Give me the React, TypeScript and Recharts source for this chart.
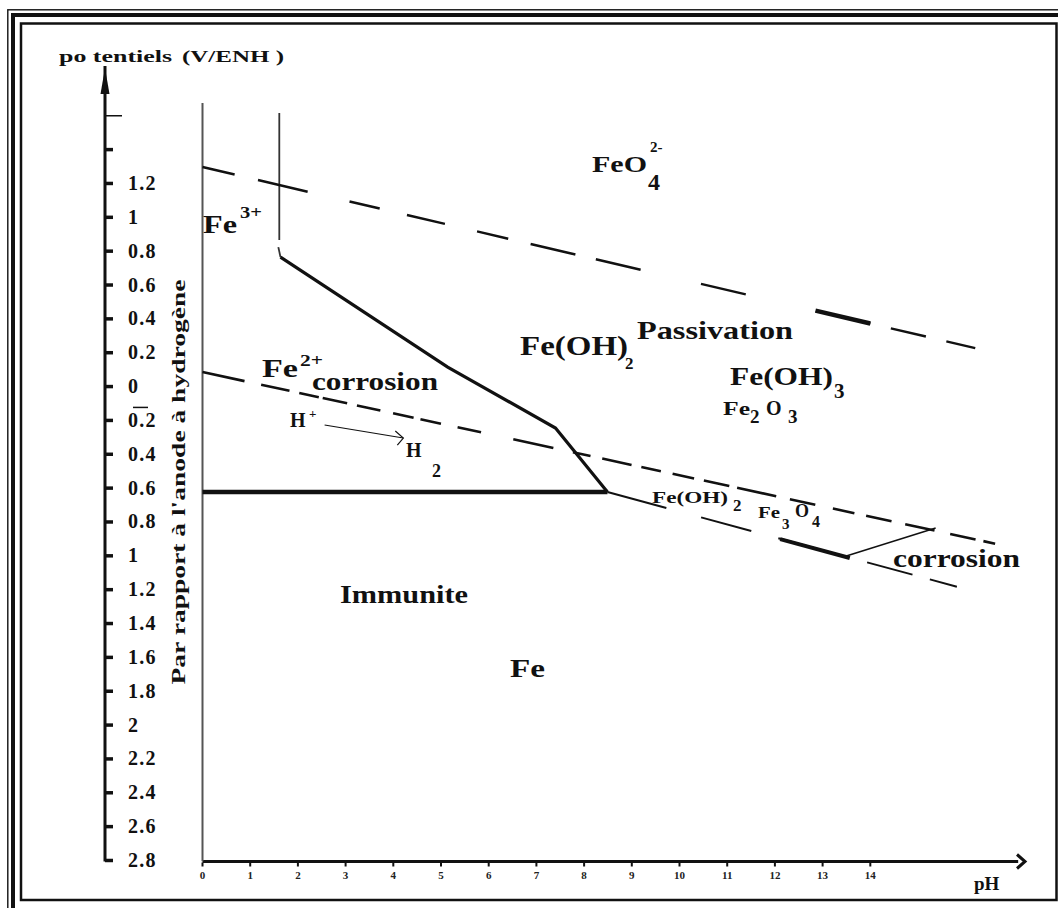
import React from 'react';
import { ComposedChart, Line, XAxis, YAxis, ReferenceLine, ReferenceDot } from 'recharts';

// ---- axes ----
const xTicks = [0, 1, 2, 3, 4, 5, 6, 7, 8, 9, 10, 11, 12, 13, 14];
const xTickLabels = ['0', '1', '2', '3', '4', '5', '6', '7', '8', '9', '10', '11', '12', '13', '14'];
const yTicks = [1.6, 1.4, 1.2, 1, 0.8, 0.6, 0.4, 0.2, 0, -0.2, -0.4, -0.6, -0.8, -1, -1.2, -1.4, -1.6, -1.8, -2, -2.2, -2.4, -2.6, -2.8];
const yTickLabels = ['', '', '1.2', '1', '0.8', '0.6', '0.4', '0.2', '0', '0.2', '0.4', '0.6', '0.8', '1', '1.2', '1.4', '1.6', '1.8', '2', '2.2', '2.4', '2.6', '2.8'];

// ---- boundaries (pH, V) ----
const phZeroLine = [{ ph: 0, v: 1.675 }, { ph: 0, v: -2.806 }];
const fe3Vertical = [{ ph: 1.61, v: 1.616 }, { ph: 1.61, v: 0.866 }];
const fe3Hook = [{ ph: 1.59, v: 0.824 }, { ph: 1.635, v: 0.765 }];
const passivationBoundary = [{ ph: 1.635, v: 0.765 }, { ph: 5.14, v: 0.115 }, { ph: 7.4, v: -0.245 }, { ph: 8.49, v: -0.623 }];
const immunityBoundary = [{ ph: 0, v: -0.623 }, { ph: 8.49, v: -0.623 }];
const oxygenLine = [{ ph: 0, v: 1.297 }, { ph: 16.2, v: 0.227 }];
const oxygenThick = [{ ph: 12.85, v: 0.449 }, { ph: 14.0, v: 0.373 }];
const hydrogenLine = [{ ph: 0, v: 0.086 }, { ph: 17.04, v: -0.954 }];
const magnetiteBoundary = [{ ph: 8.49, v: -0.623 }, { ph: 15.85, v: -1.185 }];
const magnetiteThick = [{ ph: 12.11, v: -0.901 }, { ph: 13.57, v: -1.013 }];
const ferriteBoundary = [{ ph: 13.48, v: -1.002 }, { ph: 15.37, v: -0.836 }];
const hArrow = [{ ph: 2.56, v: -0.227 }, { ph: 4.21, v: -0.304 }];

const X_DOMAIN: [number, number] = [-2.044, 17.243];
const Y_DOMAIN: [number, number] = [-2.806, 1.894];

const SERIF = '"Liberation Serif", "Times New Roman", serif';
const INK = '#111';

const YTick = (props: any) => {
  const { x, y, payload } = props;
  const i = yTicks.indexOf(payload.value);
  const label = yTickLabels[i] ?? '';
  const long = payload.value === 1.6;
  return (
    <g>
      <line x1={x} y1={y} x2={x + (long ? 17 : 8)} y2={y} stroke={INK} strokeWidth={long ? 1.5 : 3.5} />
      {payload.value === -0.2 && <line x1={x + 28} y1={y - 13} x2={x + 43} y2={y - 13} stroke={INK} strokeWidth={1.5} />}
      {label && (
        <text x={x + 23} y={y + 6.5} fontFamily={SERIF} fontWeight="bold" fontSize={20} letterSpacing={1.2} fill={INK}>
          {label}
        </text>
      )}
    </g>
  );
};

const XTick = (props: any) => {
  const { x, y, payload } = props;
  const i = xTicks.indexOf(payload.value);
  return (
    <g>
      <line x1={x} y1={y + 1} x2={x} y2={y + 5} stroke={INK} strokeWidth={2} />
      <text x={x} y={y + 17} textAnchor="middle" fontFamily={SERIF} fontWeight="bold" fontSize={11} fill="#222">
        {xTickLabels[i]}
      </text>
    </g>
  );
};

const upArrow = (p: any) => (
  <path d={`M${p.cx},${p.cy} L${p.cx - 4.5},${p.cy + 26} L${p.cx + 4.5},${p.cy + 26} Z`} fill={INK} />
);
const rightArrow = (p: any) => (
  <path d={`M${p.cx - 8},${p.cy - 7} L${p.cx},${p.cy} L${p.cx - 8},${p.cy + 7}`} fill="none" stroke={INK} strokeWidth={3} />
);
const smallArrow = (p: any) => (
  <path d={`M${p.cx - 8},${p.cy - 7} L${p.cx},${p.cy} L${p.cx - 6},${p.cy + 7}`} fill="none" stroke={INK} strokeWidth={1.2} />
);

type T = { t: string; x: number; y: number; s: number; len?: number; w?: string };
const texts: T[] = [
  { t: 'po tentiels', x: 59, y: 62, s: 16, len: 113 },
  { t: '(V/ENH )', x: 182, y: 62, s: 17, len: 102 },
  { t: 'pH', x: 974, y: 890, s: 19 },
  { t: 'Fe', x: 203, y: 233, s: 25, len: 34 },
  { t: '3+', x: 240, y: 218, s: 16, len: 22 },
  { t: 'FeO', x: 592, y: 172, s: 24, len: 55 },
  { t: '4', x: 648, y: 190, s: 24 },
  { t: '2-', x: 650, y: 152, s: 15 },
  { t: 'Fe(OH)', x: 520, y: 355, s: 27, len: 108 },
  { t: '2', x: 625, y: 369, s: 17 },
  { t: 'Passivation', x: 637, y: 339, s: 26, len: 156 },
  { t: 'Fe(OH)', x: 730, y: 385, s: 25, len: 103 },
  { t: '3', x: 834, y: 398, s: 21 },
  { t: 'Fe', x: 723, y: 415, s: 19, len: 27 },
  { t: '2', x: 750, y: 423, s: 19 },
  { t: 'O', x: 766, y: 415, s: 20 },
  { t: '3', x: 788, y: 423, s: 19 },
  { t: 'Fe', x: 262, y: 377, s: 26, len: 36 },
  { t: '2+', x: 300, y: 366, s: 17, len: 23 },
  { t: 'corrosion', x: 312, y: 390, s: 26, len: 126 },
  { t: 'H', x: 290, y: 427, s: 20 },
  { t: '+', x: 309, y: 418, s: 13 },
  { t: 'H', x: 406, y: 457, s: 20 },
  { t: '2', x: 432, y: 477, s: 18 },
  { t: 'Fe(OH)', x: 652, y: 503, s: 17, len: 76 },
  { t: '2', x: 733, y: 511, s: 17 },
  { t: 'Fe', x: 758, y: 518, s: 16, len: 22 },
  { t: '3', x: 782, y: 529, s: 15 },
  { t: 'O', x: 795, y: 517, s: 18 },
  { t: '4', x: 812, y: 527, s: 16 },
  { t: 'corrosion', x: 893, y: 567, s: 25, len: 127 },
  { t: 'Immunite', x: 340, y: 603, s: 26, len: 128 },
  { t: 'Fe', x: 510, y: 677, s: 25, len: 35 },
];

const lineProps = { type: 'linear' as const, dataKey: 'v', dot: false, isAnimationActive: false, activeDot: false, legendType: 'none' as const };

export default function App() {
  return (
    <div style={{ position: 'absolute', left: 0, top: 0, width: 1058, height: 908, overflow: 'hidden', background: '#fff' }}>
      <div style={{ position: 'absolute', left: 0, top: 0 }}>
        <ComposedChart width={1058} height={908} margin={{ top: 66, right: 33, bottom: 16.5, left: 65 }}>
          <XAxis
            type="number"
            dataKey="ph"
            domain={X_DOMAIN}
            allowDataOverflow
            ticks={xTicks}
            interval={0}
            axisLine={false}
            tickLine={false}
            tickSize={0}
            tickMargin={0}
            height={30}
            tick={<XTick />}
          />
          <YAxis
            type="number"
            domain={Y_DOMAIN}
            allowDataOverflow
            ticks={yTicks}
            interval={0}
            width={40}
            axisLine={{ stroke: INK, strokeWidth: 3 }}
            tickLine={false}
            tickSize={0}
            tickMargin={0}
            tick={<YTick />}
          />
          <ReferenceLine
            segment={[{ x: 0, y: -2.806 }, { x: 17.1, y: -2.806 }]}
            stroke={INK}
            strokeWidth={3}
            ifOverflow="visible"
          />
          <ReferenceDot x={17.243} y={-2.806} r={1} ifOverflow="visible" shape={rightArrow} />
          <ReferenceDot x={-2.044} y={1.882} r={1} ifOverflow="visible" shape={upArrow} />

          <Line {...lineProps} data={phZeroLine} stroke="#555" strokeWidth={2} />
          <Line {...lineProps} data={fe3Vertical} stroke="#333" strokeWidth={1.8} />
          <Line {...lineProps} data={fe3Hook} stroke="#333" strokeWidth={1.8} />
          <Line {...lineProps} data={passivationBoundary} stroke={INK} strokeWidth={3.2} />
          <Line {...lineProps} data={immunityBoundary} stroke={INK} strokeWidth={4.5} />
          <Line
            {...lineProps}
            data={oxygenLine}
            stroke={INK}
            strokeWidth={2.5}
            strokeDasharray="33 24 51 43 31 28 39 33 32 23 46 21 46 62 46 72 56 21 36 21 31 100"
          />
          <Line {...lineProps} data={oxygenThick} stroke={INK} strokeWidth={4.5} />
          <Line
            {...lineProps}
            data={hydrogenLine}
            stroke={INK}
            strokeWidth={2.6}
            strokeDasharray="43 17 29 10 20 4 25 10 24 13 21 7 21 17 24 33 41 20 18 12 30 10 20 12 22 10 26 8 40 14 26 18 22 12 26 14 30 16 26 8 12 40"
          />
          <Line
            {...lineProps}
            data={magnetiteBoundary}
            stroke={INK}
            strokeWidth={2}
            strokeDasharray="61 36 52 28 73 19 47 18 28 60"
          />
          <Line {...lineProps} data={magnetiteThick} stroke={INK} strokeWidth={4} />
          <Line {...lineProps} data={ferriteBoundary} stroke={INK} strokeWidth={1.5} />
          <Line {...lineProps} data={hArrow} stroke={INK} strokeWidth={1.2} />
          <ReferenceDot x={4.21} y={-0.304} r={1} ifOverflow="visible" shape={smallArrow} />
        </ComposedChart>
      </div>
      <svg width={1058} height={908} style={{ position: 'absolute', left: 0, top: 0, pointerEvents: 'none' }}>
        <rect x={7.8} y={9.8} width={1070} height={920} fill="none" stroke={INK} strokeWidth={1.4} />
        <rect x={13} y={15} width={1060} height={910} fill="none" stroke={INK} strokeWidth={4} />
        <rect x={21} y={23.5} width={1035.5} height={876.5} fill="none" stroke={INK} strokeWidth={2.5} />
        {texts.map((d, i) => (
          <text
            key={i}
            x={d.x}
            y={d.y}
            fontFamily={SERIF}
            fontWeight={d.w ?? 'bold'}
            fontSize={d.s}
            fill={INK}
            {...(d.len ? { textLength: d.len, lengthAdjust: 'spacingAndGlyphs' } : {})}
          >
            {d.t}
          </text>
        ))}
        <text
          transform="translate(185, 482) rotate(-90)"
          textAnchor="middle"
          fontFamily={SERIF}
          fontWeight="bold"
          fontSize={19}
          fill={INK}
          textLength={405}
          lengthAdjust="spacingAndGlyphs"
        >
          Par rapport à l'anode à hydrogène
        </text>
      </svg>
    </div>
  );
}
